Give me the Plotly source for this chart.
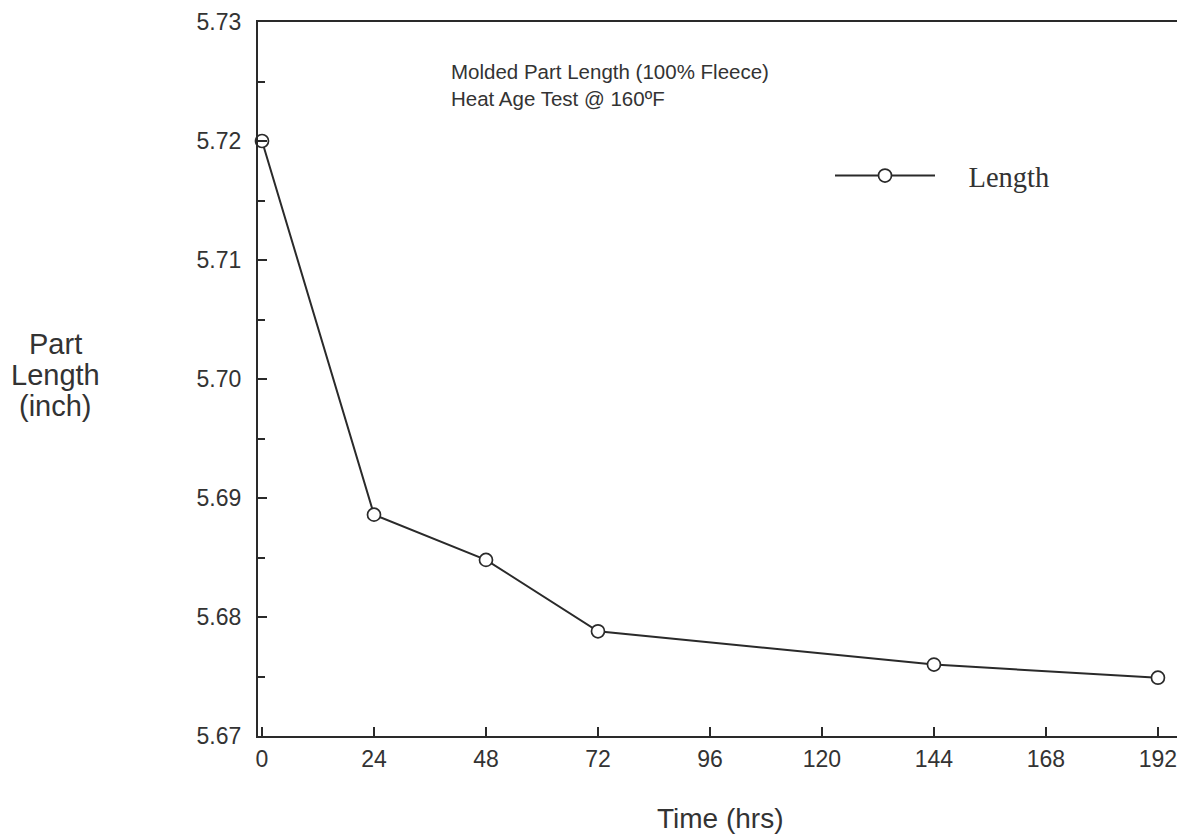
import plotly.graph_objects as go

time_hrs = [0, 24, 48, 72, 144, 192]
length_in = [5.7200, 5.6886, 5.6848, 5.6788, 5.6760, 5.6749]
x_ticks = [0, 24, 48, 72, 96, 120, 144, 168, 192]
y_ticks = [5.67, 5.68, 5.69, 5.70, 5.71, 5.72, 5.73]

ink = "#2a2a2a"
txt = "#333333"

# page has an 8px body margin, so the figure is sized to fit the 1185x839 window
W, H = 1177, 831
L, R, T, B = 250, 0, 14, 103
PW, PH = W - L - R, H - T - B

def px(xf):
    return (xf - L) / PW

def py(yf):
    return (H - B - yf) / PH

fig = go.Figure()
fig.add_trace(go.Scatter(
    x=time_hrs, y=length_in, mode="lines+markers", name="\u00a0\u00a0\u00a0\u00a0Length",
    line=dict(color=ink, width=2),
    marker=dict(symbol="circle", size=13, color="white", line=dict(color=ink, width=1.7)),
    cliponaxis=False,
))

fig.update_layout(
    width=W, height=H,
    margin=dict(l=L, r=R, t=T, b=B, autoexpand=False),
    paper_bgcolor="white", plot_bgcolor="white",
    font=dict(family="Arial, Liberation Sans, sans-serif", size=23, color=txt),
    showlegend=True,
    legend=dict(x=px(822), y=py(168), xanchor="left", yanchor="middle",
                font=dict(family="Liberation Serif, Times New Roman, serif", size=28.5, color=txt),
                itemwidth=100, bgcolor="rgba(0,0,0,0)"),
    xaxis=dict(range=[-0.86, 197.8], tickvals=x_ticks, ticktext=[str(v) for v in x_ticks],
               automargin=False,
               showgrid=False, zeroline=False, showline=True, linecolor=ink, linewidth=2.2,
               mirror=True, ticks="inside", ticklen=9, tickwidth=2, tickcolor=ink,
               ticklabelstandoff=1, ticklabeloverflow="allow", tickfont=dict(size=23, color=txt)),
    yaxis=dict(range=[5.67, 5.73], tickvals=y_ticks, ticktext=[f"{v:.2f}" for v in y_ticks],
               automargin=False,
               showgrid=False, zeroline=False, showline=True, linecolor=ink, linewidth=2.2,
               ticks="inside", ticklen=9, tickwidth=2, tickcolor=ink,
               ticklabelstandoff=10, ticklabeloverflow="allow", tickfont=dict(size=23, color=txt),
               minor=dict(dtick=0.005, tick0=5.67, ticks="inside", ticklen=7, tickwidth=2, tickcolor=ink)),
)

fig.add_annotation(xref="paper", yref="paper", x=px(441), y=py(76.5),
                   text="Molded Part Length (100% Fleece)<br>Heat Age Test @ 160ºF",
                   showarrow=False, xanchor="left", yanchor="middle", align="left",
                   font=dict(size=20.5, color=txt))
for line_text, yy in [("Part", 336), ("Length", 367), ("(inch)", 398)]:
    fig.add_annotation(xref="paper", yref="paper", x=px(47), y=py(yy),
                       text=line_text, showarrow=False,
                       xanchor="center", yanchor="middle", align="center",
                       font=dict(size=29, color=txt))
fig.add_annotation(xref="paper", yref="paper", x=px(712), y=py(810),
                   text="Time (hrs)", showarrow=False,
                   xanchor="center", yanchor="middle",
                   font=dict(size=28, color=txt))

fig.write_html("out.html")
